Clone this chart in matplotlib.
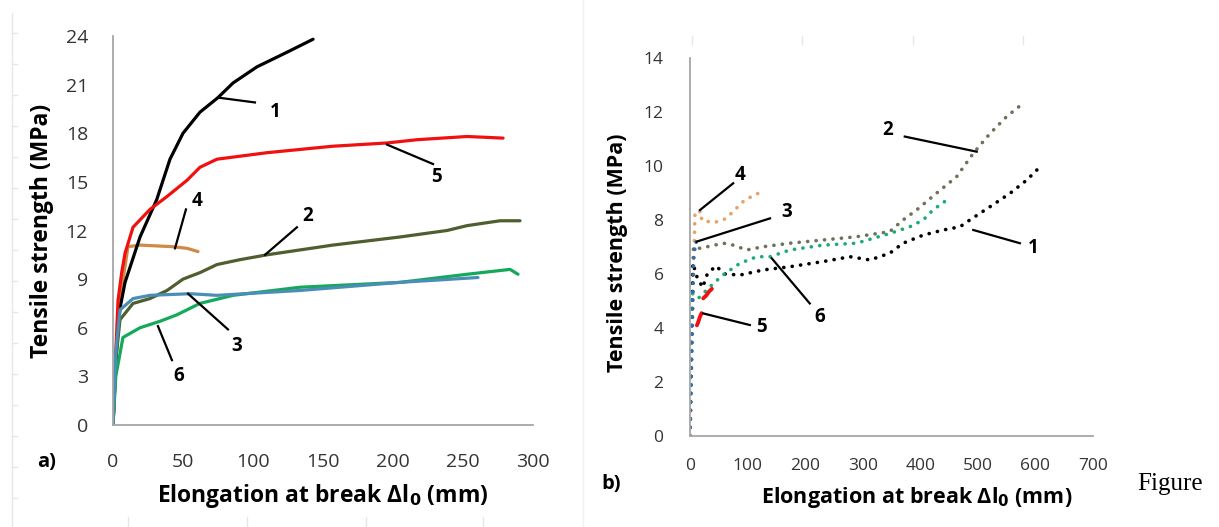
import matplotlib
matplotlib.use("Agg")
import matplotlib.pyplot as plt
from matplotlib.lines import Line2D
import numpy as np

# ---------------- Panel a) data (solid curves) ----------------
a1_x = [0, 3, 5, 8.6, 19.3, 31.2, 40.7, 50, 62.1, 75, 85.7, 102.9, 124.3, 142.9]
a1_y = [0, 5.5, 7.2, 8.8, 11.6, 13.9, 16.4, 18.0, 19.3, 20.2, 21.1, 22.1, 23.0, 23.8]

a2_x = [0, 2, 5, 14.3, 26.4, 38.6, 50, 62.1, 74.3, 90.7, 110, 157, 205, 238.6, 252.9, 276.4, 290.7]
a2_y = [0, 4.0, 6.5, 7.5, 7.8, 8.3, 9.0, 9.4, 9.9, 10.2, 10.5, 11.1, 11.6, 12.0, 12.3, 12.6, 12.6]

a3_x = [0, 2, 5, 14.3, 26.4, 55, 74.3, 133.6, 205, 260.7]
a3_y = [0, 4.5, 7.1, 7.8, 8.0, 8.1, 8.0, 8.3, 8.8, 9.1]

a4_x = [0, 2.1, 5, 10.7, 19.3, 42.9, 52.9, 60.7]
a4_y = [0, 4.0, 7.7, 11.0, 11.1, 11.0, 10.9, 10.7]

a5_x = [0, 2, 3.6, 6.2, 8.6, 14.3, 26.4, 38.6, 52.9, 62.1, 74.3, 110, 157, 195.7, 217, 252.9, 278.6]
a5_y = [0, 4.5, 7.7, 9.4, 10.6, 12.2, 13.3, 14.1, 15.1, 15.9, 16.4, 16.8, 17.2, 17.4, 17.6, 17.8, 17.7]

a6_x = [0, 2, 7.1, 19.3, 33.6, 45.7, 62.1, 85.7, 133.6, 205, 252.9, 283.6, 289.3]
a6_y = [0, 3.0, 5.4, 6.0, 6.4, 6.8, 7.5, 8.0, 8.5, 8.8, 9.3, 9.6, 9.3]

a_xticks = [0, 50, 100, 150, 200, 250, 300]
a_yticks = [0, 3, 6, 9, 12, 15, 18, 21, 24]

# ---------------- Panel b) data (dotted curves) ----------------
b1_x = [0, 2, 5, 12, 22, 30, 45, 60, 86.8, 127, 173.6, 231, 278, 312.5, 347, 370, 405, 440, 469, 486, 521, 556, 585, 608]
b1_y = [0, 3.0, 6.4, 5.9, 5.5, 6.0, 6.3, 6.0, 5.96, 6.15, 6.27, 6.46, 6.64, 6.52, 6.77, 7.14, 7.44, 7.63, 7.75, 8.0, 8.49, 8.99, 9.48, 9.97]

b2_x = [0, 3, 6, 17.4, 57.8, 75.2, 98.4, 127, 173.6, 231, 289, 347, 370, 393.5, 428, 463, 492, 521, 550, 582]
b2_y = [0, 3.5, 7.0, 6.95, 7.14, 7.07, 6.89, 7.01, 7.14, 7.26, 7.38, 7.57, 8.0, 8.37, 8.99, 9.6, 10.47, 11.2, 11.83, 12.38]

b3_x = [0, 2, 4, 5, 6, 10, 13]
b3_y = [0, 2.0, 4.0, 5.5, 6.5, 7.2, 7.1]

b4_x = [0, 4, 8.7, 20, 20, 40.5, 58, 69, 95, 130]
b4_y = [0, 4.0, 8.31, 8.31, 8.0, 7.9, 8.0, 8.19, 8.74, 9.11]

b5_x = [12, 14, 17, 20, np.nan, 23, 28, 33, 38]
b5_y = [4.1, 4.2, 4.4, 4.55, np.nan, 5.1, 5.2, 5.35, 5.45]

b6_x = [0, 3, 14.4, 34.7, 57, 87, 116, 139, 173.6, 231, 289, 347, 382, 405, 422, 446]
b6_y = [0, 5.3, 5.1, 5.53, 5.96, 6.4, 6.64, 6.64, 6.89, 7.07, 7.14, 7.5, 7.75, 8.0, 8.37, 8.74]

b_xticks = [0, 100, 200, 300, 400, 500, 600, 700]
b_yticks = [0, 2, 4, 6, 8, 10, 12, 14]

# ---------------- Figure ----------------
W, H = 1219, 527
fig = plt.figure(figsize=(W / 100, H / 100), dpi=100)
FONT = "Open Sans"
AX_GRAY = "#A6A6A6"

def fx(px):
    return px / W

def fy(py):
    return 1 - py / H

# faint page-ruler artefacts
RULER = "#E6E6E6"
fig.add_artist(Line2D([fx(12), fx(12)], [fy(13), fy(527)], color=RULER, lw=1))
for ty in np.arange(33, 527, 31):
    fig.add_artist(Line2D([fx(12), fx(17)], [fy(ty), fy(ty)], color=RULER, lw=1))
for tx in [128, 247, 366, 483]:
    fig.add_artist(Line2D([fx(tx), fx(tx)], [fy(517), fy(527)], color=RULER, lw=1))
fig.add_artist(Line2D([fx(583), fx(583)], [fy(0), fy(527)], color="#F0F0F0", lw=1))
for tx in [692, 802, 913, 1023]:
    fig.add_artist(Line2D([fx(tx), fx(tx)], [fy(36), fy(44)], color=RULER, lw=1))

axA = fig.add_axes([fx(113), fy(425), (533 - 113) / W, (425 - 36) / H])
axB = fig.add_axes([fx(690), fy(436), (1093 - 690) / W, (436 - 58) / H])

def style(ax, size, padx, pady):
    for s in ["top", "right"]:
        ax.spines[s].set_visible(False)
    for s in ["left", "bottom"]:
        ax.spines[s].set_color(AX_GRAY)
        ax.spines[s].set_linewidth(1.3)
    ax.tick_params(length=0, labelsize=size, labelcolor="#333333")
    ax.tick_params(axis="x", pad=padx)
    ax.tick_params(axis="y", pad=pady)
    for t in ax.get_xticklabels() + ax.get_yticklabels():
        t.set_fontfamily(FONT)

# Panel a
lw = 2.3
axA.plot(a4_x, a4_y, color="#D08A45", lw=lw, solid_capstyle="round")
axA.plot(a1_x, a1_y, color="#000000", lw=lw, solid_capstyle="round")
axA.plot(a5_x, a5_y, color="#F01010", lw=lw, solid_capstyle="round")
axA.plot(a2_x, a2_y, color="#4E5E2E", lw=lw, solid_capstyle="round")
axA.plot(a6_x, a6_y, color="#14A95A", lw=lw, solid_capstyle="round")
axA.plot(a3_x, a3_y, color="#4A8DB5", lw=lw, solid_capstyle="round")
axA.set_xlim(0, 300)
axA.set_ylim(0, 24)
axA.set_xticks(a_xticks)
axA.set_yticks(a_yticks)
style(axA, 14, 20, 18)

def lab(ax, txt, xy_from, xy_to, xy_txt, size=13.5):
    ax.plot([xy_from[0], xy_to[0]], [xy_from[1], xy_to[1]], color="black", lw=1.6)
    ax.text(xy_txt[0], xy_txt[1], txt, fontsize=size, fontweight="bold", fontfamily=FONT,
            ha="center", va="center")

lab(axA, "1", (75, 20.2), (101.4, 19.9), (115.7, 19.3))
lab(axA, "5", (195.7, 17.3), (228.6, 16.1), (231.4, 15.3))
lab(axA, "4", (44.3, 10.9), (52.1, 13.3), (60, 13.8))
lab(axA, "2", (108.6, 10.5), (131.4, 12.2), (139.3, 12.9))
lab(axA, "3", (53.6, 8.1), (82.1, 5.9), (88.6, 4.9))
lab(axA, "6", (32.1, 6.1), (42.1, 4.0), (47.1, 3.0))

# Panel b
dot = dict(lw=2.6, linestyle=(0, (0.05, 2.3)), dash_capstyle="round")
axB.plot(b4_x, b4_y, color="#E3A36B", **dot)
axB.plot(b2_x, b2_y, color="#6E7256", **dot)
axB.plot(b1_x, b1_y, color="#000000", **dot)
axB.plot(b6_x, b6_y, color="#1EAA78", **dot)
axB.plot(b3_x, b3_y, color="#2F6FB0", **dot)
axB.plot(b5_x, b5_y, color="#F01010", lw=2.8, solid_capstyle="round")
axB.set_xlim(0, 700)
axB.set_ylim(0, 14)
axB.set_xticks(b_xticks)
axB.set_yticks(b_yticks)
style(axB, 12.5, 16, 19)

lab(axB, "2", (373, 11.09), (498, 10.53), (344, 11.33))
lab(axB, "1", (492, 7.63), (573, 7.14), (596, 6.95))
lab(axB, "4", (17.4, 8.37), (75, 9.36), (86.8, 9.67))
lab(axB, "3", (11.6, 7.2), (139, 8.06), (168, 8.31))
lab(axB, "6", (142, 6.58), (208, 4.91), (226, 4.42))
lab(axB, "5", (23, 4.54), (104, 4.11), (124.5, 4.05))

# axis titles
XLAB = "Elongation at break Δl$_\\mathbf{0}$ (mm)"
YLAB = "Tensile strength (MPa)"
fig.text(fx(323), fy(496), XLAB, fontsize=16.5, fontweight="bold", fontfamily=FONT, ha="center", va="center")
fig.text(fx(42), fy(231), YLAB, fontsize=16.5, fontweight="bold", fontfamily=FONT, ha="center", va="center",
         rotation=90)
fig.text(fx(917), fy(498), XLAB, fontsize=15.5, fontweight="bold", fontfamily=FONT, ha="center", va="center")
fig.text(fx(617), fy(253), YLAB, fontsize=15.5, fontweight="bold", fontfamily=FONT, ha="center", va="center",
         rotation=90)

fig.text(fx(47), fy(462), "a)", fontsize=14.5, fontweight="bold", fontfamily=FONT, ha="center", va="center")
fig.text(fx(611), fy(484), "b)", fontsize=14.5, fontweight="bold", fontfamily=FONT, ha="center", va="center")
fig.text(fx(1170), fy(484), "Figure", fontsize=18, fontfamily="Liberation Serif", ha="center", va="center")

fig.savefig("out.png", dpi=100)
